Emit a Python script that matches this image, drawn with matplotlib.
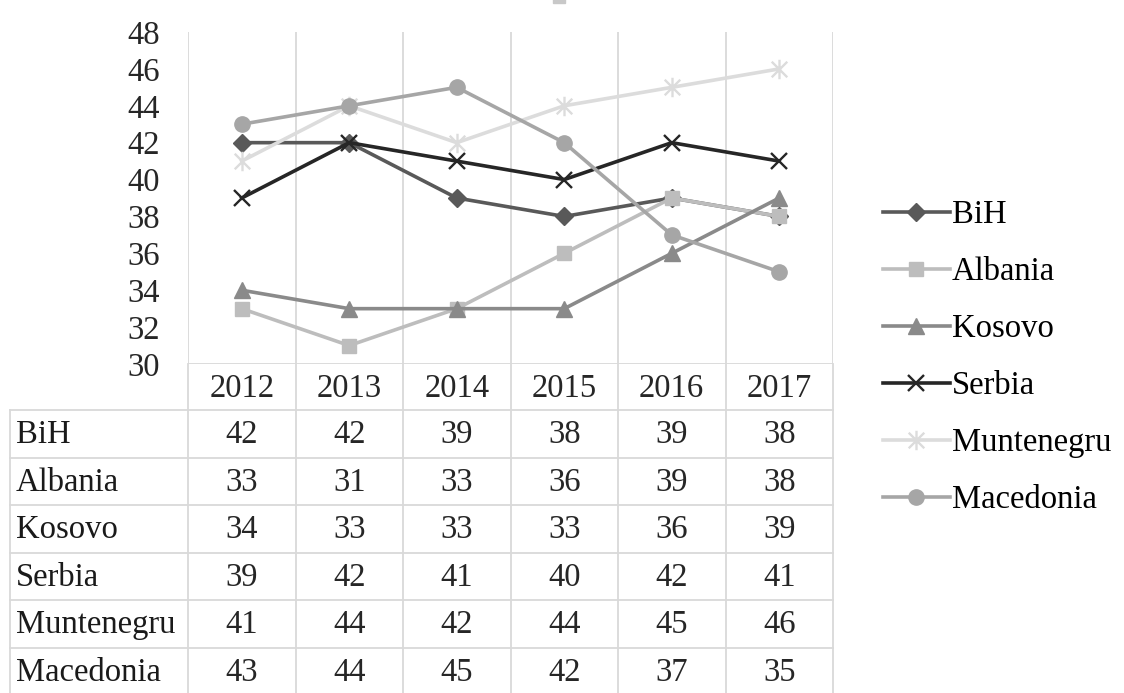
import matplotlib
matplotlib.use("Agg")
import matplotlib.pyplot as plt
from matplotlib.path import Path

years = ["2012", "2013", "2014", "2015", "2016", "2017"]
series_names = ["BiH", "Albania", "Kosovo", "Serbia", "Muntenegru", "Macedonia"]
bih = [42, 42, 39, 38, 39, 38]
albania = [33, 31, 33, 36, 39, 38]
kosovo = [34, 33, 33, 33, 36, 39]
serbia = [39, 42, 41, 40, 42, 41]
muntenegru = [41, 44, 42, 44, 45, 46]
macedonia = [43, 44, 45, 42, 37, 35]
y_ticks = [30, 32, 34, 36, 38, 40, 42, 44, 46, 48]

values = [bih, albania, kosovo, serbia, muntenegru, macedonia]
colors = ["#595959", "#bdbdbd", "#8a8a8a", "#262626", "#dcdcdc", "#a6a6a6"]

star = Path([(0, -1), (0, 1), (-0.8, -0.8), (0.8, 0.8), (-0.8, 0.8), (0.8, -0.8)],
            [Path.MOVETO, Path.LINETO, Path.MOVETO, Path.LINETO, Path.MOVETO, Path.LINETO])
markers = ["D", "s", "^", "x", star, "o"]
msizes = [9, 10, 11, 12, 14, 11]

plt.rcParams['font.family'] = ['Liberation Serif', 'DejaVu Serif']
FS = 23.5

W, H = 1124, 693
fig = plt.figure(figsize=(W / 100, H / 100), dpi=100)

x0, x1 = 188, 833
ytop, ybot = 32, 364

def fx(px):
    return px / W

def fy(py):
    return 1 - py / H

ax = fig.add_axes([fx(x0), fy(ybot), fx(x1) - fx(x0), fy(ytop) - fy(ybot)])
ax.set_xlim(-0.5, len(years) - 0.5)
ax.set_ylim(30, 48)
for s in ax.spines.values():
    s.set_visible(False)
ax.set_yticks(y_ticks)
ax.set_yticklabels([str(t) for t in y_ticks], fontsize=FS, color="#262626")
ax.tick_params(axis="y", length=0, pad=20)
ax.set_xticks([])
for i in range(len(years) + 1):
    ax.axvline(i - 0.5, color="#d9d9d9", lw=1.3, zorder=0)
ax.axhline(30, color="#d9d9d9", lw=1.3, zorder=0)

xs = list(range(len(years)))
for name, vals, c, m, ms in zip(series_names, values, colors, markers, msizes):
    kw = dict(color=c, lw=2.6, marker=m, markersize=ms, label=name, zorder=3)
    if m == "x" or isinstance(m, Path):
        kw.update(markeredgewidth=1.7, markeredgecolor=c)
    else:
        kw.update(markeredgecolor=c, markerfacecolor=c)
    ax.plot(xs, vals, **kw)

handles, labels = ax.get_legend_handles_labels()
fig.legend(handles, labels, loc="upper left", bbox_to_anchor=(fx(883), fy(200)),
           frameon=False, fontsize=FS, handlelength=2.05, handletextpad=0.05,
           labelspacing=0.81, borderaxespad=0, borderpad=0)

tab = fig.add_axes([0, 0, 1, 1])
tab.set_xlim(0, W)
tab.set_ylim(H, 0)
tab.axis("off")
grid_c = "#d9d9d9"
col_edges = [x0 + (x1 - x0) * i / len(years) for i in range(len(years) + 1)]
header_top, header_bot = ybot, 410
row_h = 47.6
row_edges = [header_bot + row_h * i for i in range(len(series_names) + 1)]
for xe in col_edges:
    tab.plot([xe, xe], [header_top, H], color=grid_c, lw=1.3)
tab.plot([10, 10], [header_bot, H], color=grid_c, lw=1.3)
for ye in row_edges[:-1]:
    tab.plot([10, x1], [ye, ye], color=grid_c, lw=1.3)
for i, yr in enumerate(years):
    cx = (col_edges[i] + col_edges[i + 1]) / 2
    tab.text(cx, (header_top + header_bot) / 2 + 2, yr, ha="center", va="center",
             fontsize=FS, color="#262626")
for r, (name, vals) in enumerate(zip(series_names, values)):
    cy = row_edges[r] + row_h / 2 + 1
    tab.text(16, cy, name, ha="left", va="center", fontsize=FS, color="#1a1a1a")
    for i, v in enumerate(vals):
        cx = (col_edges[i] + col_edges[i + 1]) / 2
        tab.text(cx, cy, str(v), ha="center", va="center", fontsize=FS, color="#262626")

tab.add_patch(plt.Rectangle((553, -4), 12, 7, color="#c8c8c8"))

fig.savefig("out.png", dpi=100)
